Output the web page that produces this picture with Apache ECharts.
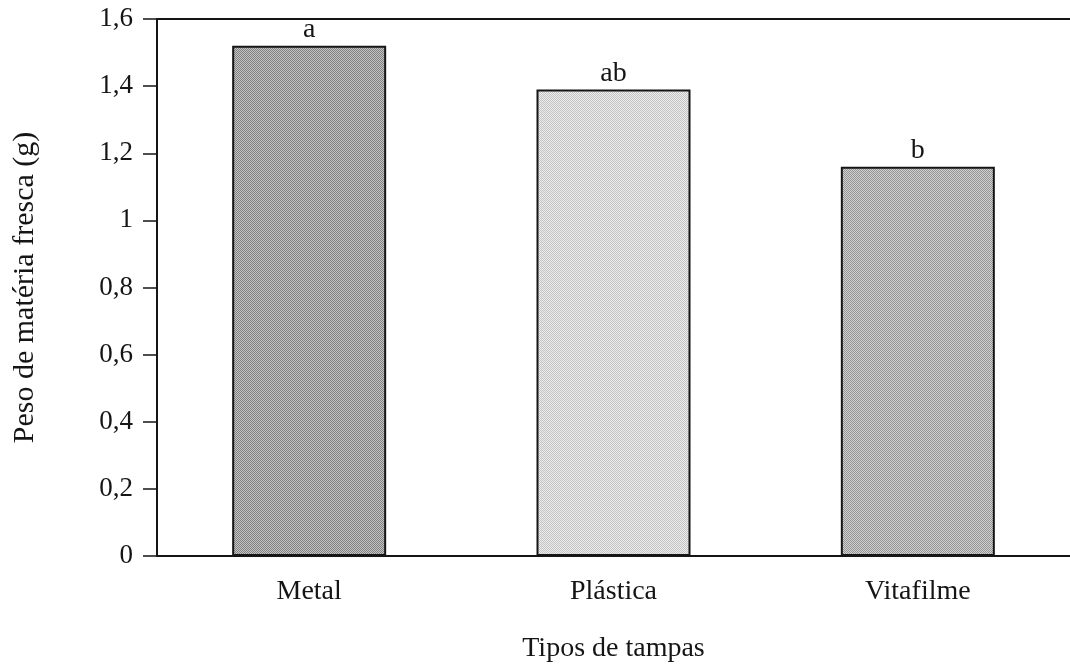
<!DOCTYPE html>
<html>
<head>
<meta charset="utf-8">
<script src="https://cdn.jsdelivr.net/npm/echarts@6/dist/echarts.min.js"></script>
<style>
  html, body { margin: 0; padding: 0; background: #fff; }
  #chart { width: 1070px; height: 668px; }
</style>
</head>
<body>
<div id="chart"></div>
<script>
// Fresh-matter weight by lid type
const categories = ['Metal', 'Plástica', 'Vitafilme'];
const values = [1.52, 1.39, 1.16];
const letters = ['a', 'ab', 'b'];
const yTicks = ['0', '0,2', '0,4', '0,6', '0,8', '1', '1,2', '1,4', '1,6'];

// Stippled fill: small checker of two greys
function stipple(dark, light) {
  const c = document.createElement('canvas');
  c.width = 2; c.height = 2;
  const g = c.getContext('2d');
  g.fillStyle = light; g.fillRect(0, 0, 2, 2);
  g.fillStyle = dark; g.fillRect(0, 0, 1, 1); g.fillRect(1, 1, 1, 1);
  return { image: c, repeat: 'repeat' };
}
const fills = [
  stipple('#808080', '#c4c4c4'),
  stipple('#c2c2c2', '#eeeeee'),
  stipple('#939393', '#d2d2d2')
];

const font = '"Liberation Serif", "Times New Roman", serif';
const ink = '#151515';
const chart = echarts.init(document.getElementById('chart'), null, { renderer: 'canvas' });
chart.setOption({
  animation: false,
  backgroundColor: '#fff',
  grid: { left: 157, right: -2, top: 19, bottom: 110 },
  xAxis: [{
    type: 'category',
    data: categories,
    name: 'Tipos de tampas',
    nameLocation: 'middle',
    nameGap: 79,
    nameTextStyle: { fontFamily: font, fontSize: 28, color: ink },
    axisLine: { lineStyle: { color: ink, width: 2 } },
    axisTick: { alignWithLabel: true, length: 14, lineStyle: { color: ink, width: 1.5 } },
    axisLabel: { fontFamily: font, fontSize: 28, color: ink, margin: 22 }
  }, {
    type: 'category',
    data: categories,
    position: 'top',
    axisLine: { show: true, lineStyle: { color: ink, width: 2 } },
    axisTick: { show: false },
    axisLabel: { show: false }
  }],
  yAxis: {
    type: 'value',
    min: 0, max: 1.6, interval: 0.2,
    name: 'Peso de matéria fresca (g)',
    nameLocation: 'middle',
    nameGap: 117,
    nameRotate: 90,
    nameTextStyle: { fontFamily: font, fontSize: 30, color: ink },
    axisLine: { show: true, lineStyle: { color: ink, width: 2 } },
    axisTick: { show: true, length: 14, lineStyle: { color: ink, width: 1.5 } },
    splitLine: { show: false },
    axisLabel: {
      fontFamily: font, fontSize: 27, color: ink, margin: 24,
      formatter: (v) => yTicks[Math.round(v / 0.2)]
    }
  },
  series: [{
    type: 'bar',
    barWidth: 154,
    data: values.map((v, i) => ({
      value: v,
      itemStyle: { color: fills[i], borderColor: ink, borderWidth: 2 }
    })),
    label: {
      show: true,
      position: 'top',
      distance: 2,
      fontFamily: font,
      fontSize: 28,
      color: ink,
      formatter: (p) => letters[p.dataIndex]
    }
  }]
});
</script>
</body>
</html>
